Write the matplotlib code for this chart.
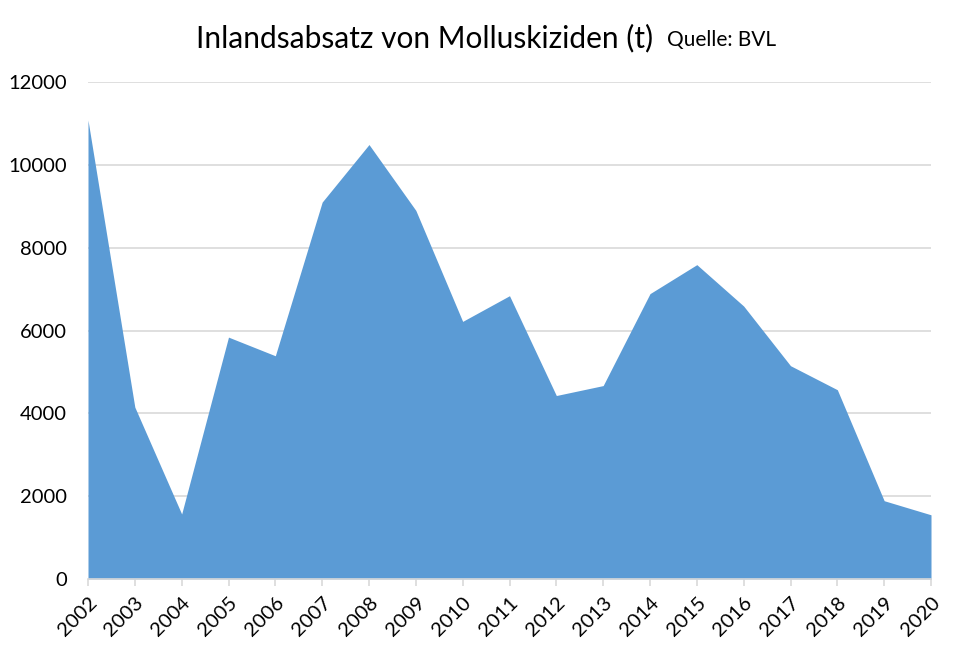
import matplotlib.pyplot as plt

plt.rcParams['font.family'] = ['Lato', 'DejaVu Sans']

# Inlandsabsatz von Molluskiziden in Tonnen
years = list(range(2002, 2021))
tonnen = [11080, 4150, 1570, 5840, 5390, 9100, 10490, 8900, 6220, 6840,
          4430, 4670, 6890, 7590, 6590, 5150, 4570, 1890, 1550]
yticks = [0, 2000, 4000, 6000, 8000, 10000, 12000]

fig = plt.figure(figsize=(9.69, 6.55), dpi=100)
ax = fig.add_axes([88/969, 1 - 579/655, (931-88)/969, (579-82)/655])

ax.fill_between(years, tonnen, 0, color='#5B9BD5', linewidth=0, zorder=2)

ax.set_xlim(2002, 2020)
ax.set_ylim(0, 12000)
ax.set_yticks(yticks)
ax.set_xticks(years)
ax.set_xticklabels([str(y) for y in years], rotation=45, ha='right',
                   rotation_mode='anchor', fontsize=14.5)
ax.tick_params(axis='y', length=0, labelsize=14.5, pad=15)
ax.tick_params(axis='x', length=5, color='#D9D9D9', width=1.2, pad=6)

ax.grid(axis='y', color='#D9D9D9', linewidth=1.2, zorder=0)
for s in ['top', 'right', 'left']:
    ax.spines[s].set_visible(False)
ax.spines['bottom'].set_color('#D9D9D9')
ax.spines['bottom'].set_linewidth(1.2)
ax.set_axisbelow(True)

fig.text(196/969, 1 - 38/655, 'Inlandsabsatz von Molluskiziden (t)',
         fontsize=21.5, va='center', ha='left')
fig.text(667/969, 1 - 40/655, 'Quelle: BVL', fontsize=15, va='center', ha='left')

fig.savefig('out.png', dpi=100)
